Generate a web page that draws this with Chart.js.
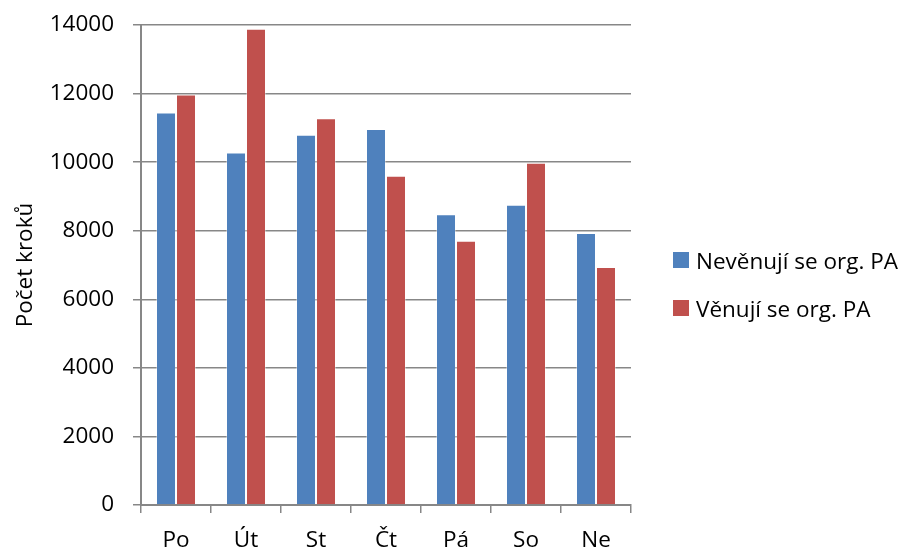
<!DOCTYPE html>
<html lang="cs">
<head>
<meta charset="utf-8">
<title>Počet kroků podle dne v týdnu</title>
<script src="https://cdn.jsdelivr.net/npm/chart.js@4"></script>
<style>
  html, body { margin: 0; padding: 0; background: #fff; }
  #wrap { position: relative; width: 906px; height: 549px; }
  #chart { position: absolute; left: 0; top: 0; }
  #legend { position: absolute; left: 673px; top: 0; font-family: "Open Sans", Lato, sans-serif; font-size: 22.5px; color: #000; }
  .item { position: absolute; left: 0; display: flex; align-items: center; white-space: nowrap; }
  .sw { width: 16px; height: 16px; margin-right: 7px; }
</style>
</head>
<body>
<div id="wrap">
  <canvas id="chart" width="906" height="549"></canvas>
  <div id="legend"></div>
</div>
<script>
// Dny v týdnu
const days = ["Po", "Út", "St", "Čt", "Pá", "So", "Ne"];
// Průměrný počet kroků
const notActive = [11450, 10280, 10800, 10970, 8480, 8760, 7930];
const active = [11970, 13890, 11280, 9600, 7710, 9980, 6940];
const seriesNames = ["Nevěnují se org. PA", "Věnují se org. PA"];
const seriesColors = ["#4F81BD", "#C0504D"];
const yTicks = [0, 2000, 4000, 6000, 8000, 10000, 12000, 14000];

const FONT = "'Open Sans', Lato, sans-serif";
const gridColor = "#878787";

const chart = new Chart(document.getElementById("chart"), {
  type: "bar",
  data: {
    labels: days,
    datasets: [
      { label: seriesNames[0], data: notActive, backgroundColor: seriesColors[0],
        borderColor: "rgba(255,255,255,0.35)", borderWidth: 1 },
      { label: seriesNames[1], data: active, backgroundColor: seriesColors[1],
        borderColor: "rgba(255,255,255,0.35)", borderWidth: 1 }
    ]
  },
  options: {
    responsive: false,
    animation: false,
    devicePixelRatio: 1,
    layout: { padding: { left: 0, top: 25, right: 275, bottom: 0 } },
    datasets: { bar: { categoryPercentage: 40 / 70, barPercentage: 1 } },
    plugins: { legend: { display: false }, tooltip: { enabled: false } },
    scales: {
      x: {
        grid: { offset: true, drawOnChartArea: false, color: gridColor, lineWidth: 1.5, tickLength: 8 },
        border: { color: gridColor, width: 2 },
        ticks: { color: "#000", font: { family: FONT, size: 22.5 }, padding: 14 },
        afterFit(axis) { axis.height = 44; }
      },
      y: {
        min: 0,
        max: yTicks[yTicks.length - 1],
        afterBuildTicks(axis) { axis.ticks = yTicks.map(v => ({ value: v })); },
        grid: { color: gridColor, lineWidth: 1.5, tickLength: 8 },
        border: { color: gridColor, width: 2 },
        ticks: { color: "#000", font: { family: FONT, size: 22.5 }, padding: 19,
                 callback: v => String(v) },
        title: { display: true, text: "Počet kroků", color: "#000",
                 font: { family: FONT, size: 22.5 }, padding: { top: 12, bottom: 0 } },
        afterFit(axis) {
          axis.width = 141;
          // plot area edges are set by the layout padding, not by the label overflow
          axis.paddingTop = 0;
          axis.paddingBottom = 0;
        }
      }
    }
  }
});

// Legenda vpravo od grafu
const legend = document.getElementById("legend");
const rowCenters = [260, 308];
chart.data.datasets.forEach((ds, i) => {
  const item = document.createElement("div");
  item.className = "item";
  item.style.top = (rowCenters[i] - 15) + "px";
  item.style.height = "30px";
  const sw = document.createElement("span");
  sw.className = "sw";
  sw.style.background = ds.backgroundColor;
  const tx = document.createElement("span");
  tx.textContent = ds.label;
  item.appendChild(sw);
  item.appendChild(tx);
  legend.appendChild(item);
});
</script>
</body>
</html>
